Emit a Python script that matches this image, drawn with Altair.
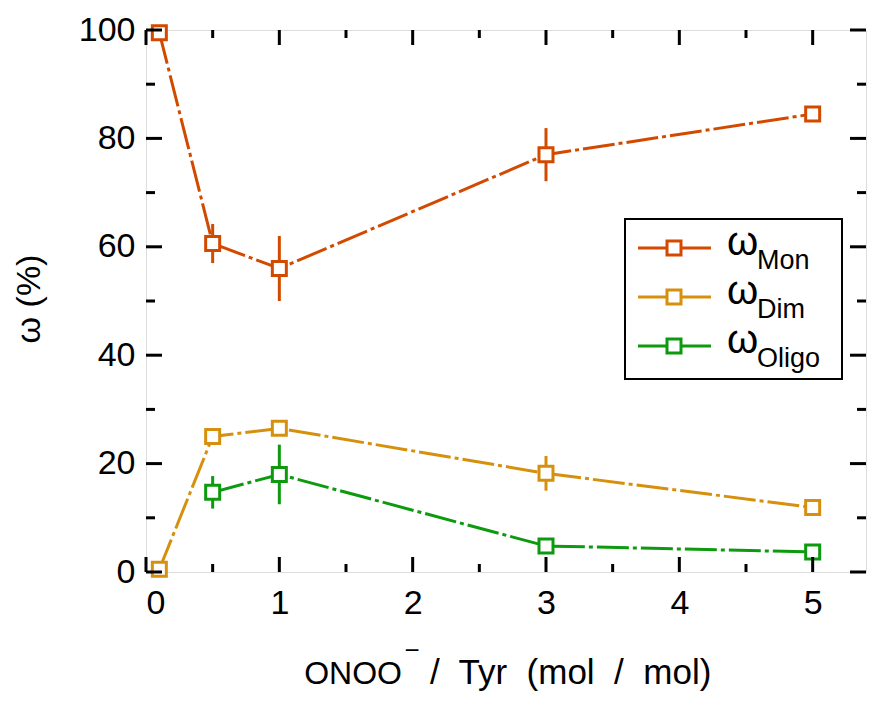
import altair as alt
import pandas as pd

# ---------------- data ----------------
x_mon = [0.1, 0.5, 1, 3, 5]
y_mon = [99.5, 60.6, 56.0, 77.0, 84.5]
e_mon = [0, 3.6, 6.0, 4.9, 0]

x_dim = [0.1, 0.5, 1, 3, 5]
y_dim = [0.5, 25.0, 26.5, 18.2, 11.9]
e_dim = [0, 0, 0, 3.2, 0]

x_oli = [0.5, 1, 3, 5]
y_oli = [14.7, 18.0, 4.8, 3.7]
e_oli = [3.0, 5.5, 0, 0]

series = ["Mon", "Dim", "Oligo"]
colors = ["#D24A00", "#D6900E", "#0E9A0E"]

x_major = [0, 1, 2, 3, 4, 5]
x_minor = [0.5, 1.5, 2.5, 3.5, 4.5]
y_major = [0, 20, 40, 60, 80, 100]
y_minor = [10, 30, 50, 70, 90]

rows = []
for name, xs_, ys_, es_ in [("Mon", x_mon, y_mon, e_mon), ("Dim", x_dim, y_dim, e_dim), ("Oligo", x_oli, y_oli, e_oli)]:
    for xv, yv, ev in zip(xs_, ys_, es_):
        rows.append({"series": name, "x": xv, "y": yv, "err": ev, "lo": yv - ev, "hi": yv + ev})
df = pd.DataFrame(rows)

W, H = 720, 542
FONT = "Liberation Sans"

xs = alt.Scale(domain=[0, 5.4], nice=False, zero=False)
ys = alt.Scale(domain=[0, 100], nice=False, zero=False)
cs = alt.Scale(domain=series, range=colors)

one = pd.DataFrame({"a": [0]})

X = alt.X("x:Q", scale=xs, axis=alt.Axis(values=x_major, format="d", ticks=False, domain=False, grid=False,
                                         labelFontSize=34, labelFont=FONT, labelColor="black", labelPadding=14, title=None))
Y = alt.Y("y:Q", scale=ys, axis=alt.Axis(values=y_major, format="d", ticks=False, domain=False, grid=False,
                                         labelFontSize=34, labelFont=FONT, labelColor="black", labelPadding=11, title=None))

lines = alt.Chart(df).mark_line(strokeWidth=3, strokeDash=[32, 4, 4, 4]).encode(
    x=X, y=Y, color=alt.Color("series:N", scale=cs, legend=None), detail="series:N", order="x:Q")

errs = alt.Chart(df[df.err > 0]).mark_rule(strokeWidth=3).encode(
    x=alt.X("x:Q", scale=xs), y=alt.Y("lo:Q", scale=ys), y2="hi:Q",
    color=alt.Color("series:N", scale=cs, legend=None))

pts = alt.Chart(df).mark_point(shape="square", filled=True, fill="white", opacity=1, strokeWidth=3, size=196).encode(
    x=alt.X("x:Q", scale=xs), y=alt.Y("y:Q", scale=ys),
    stroke=alt.Stroke("series:N", scale=cs, legend=None))

# ticks (inward)
def vticks(vals, y0, y1):
    return alt.Chart(pd.DataFrame({"v": vals})).mark_rule(color="black", strokeWidth=3).encode(
        x=alt.X("v:Q", scale=xs), y=alt.value(y0), y2=alt.value(y1))

def hticks(vals, x0, x1):
    return alt.Chart(pd.DataFrame({"v": vals})).mark_rule(color="black", strokeWidth=3).encode(
        y=alt.Y("v:Q", scale=ys), x=alt.value(x0), x2=alt.value(x1))

ticks = [
    vticks(x_major, H, H - 15), vticks(x_minor, H, H - 8),
    vticks(x_major, 0, 15), vticks(x_minor, 0, 8),
    hticks(y_major, 0, 16), hticks(y_minor, 0, 9),
    hticks(y_major, W, W - 16), hticks(y_minor, W, W - 9),
]

# legend
leg = [alt.Chart(one).mark_rect(fill="white", stroke="black", strokeWidth=2).encode(
    x=alt.value(479), x2=alt.value(696), y=alt.value(189), y2=alt.value(349))]
row_y = [218, 267, 316]
for name, col, ry in zip(series, colors, row_y):
    leg.append(alt.Chart(one).mark_rule(color=col, strokeWidth=3).encode(
        x=alt.value(492), x2=alt.value(565), y=alt.value(ry)))
    leg.append(alt.Chart(one).mark_point(shape="square", filled=True, fill="white", opacity=1, stroke=col,
                                         strokeWidth=3, size=196).encode(x=alt.value(528), y=alt.value(ry)))
    leg.append(alt.Chart(one).mark_text(text="ω", font=FONT, fontSize=40, align="left", baseline="alphabetic",
                                        color="black").encode(x=alt.value(581), y=alt.value(ry + 7)))
    leg.append(alt.Chart(one).mark_text(text=name, font=FONT, fontSize=27, align="left", baseline="alphabetic",
                                        color="black").encode(x=alt.value(611), y=alt.value(ry + 21)))

# axis titles
NB = "\u00a0"
rest = "/" + NB + " Tyr" + NB + " (mol" + NB + " /" + NB + " mol)"
titles = [
    alt.Chart(one).mark_text(text="ONOO", font=FONT, fontSize=32, align="right", baseline="alphabetic",
                             color="black").encode(x=alt.value(256), y=alt.value(654)),
    alt.Chart(one).mark_text(text="−", font=FONT, fontSize=26, align="center", baseline="alphabetic",
                             color="black").encode(x=alt.value(266), y=alt.value(629)),
    alt.Chart(one).mark_text(text=rest, font=FONT, fontSize=35, align="left",
                             baseline="alphabetic", color="black").encode(x=alt.value(284), y=alt.value(654)),
    alt.Chart(one).mark_text(text="ω (%)", font=FONT, fontSize=34, align="center", baseline="middle", angle=270,
                             color="black").encode(x=alt.value(-116), y=alt.value(269)),
]

chart = alt.layer(lines, errs, pts, *ticks, *leg, *titles).properties(
    width=W, height=H,
    autosize=alt.AutoSizeParams(type="none"),
    padding={"left": 138, "top": 22, "right": 3, "bottom": 122},
).configure_view(stroke="black", strokeWidth=3).configure(background="white")

chart.save("out.html", embed_options={"renderer": "svg", "actions": False})
